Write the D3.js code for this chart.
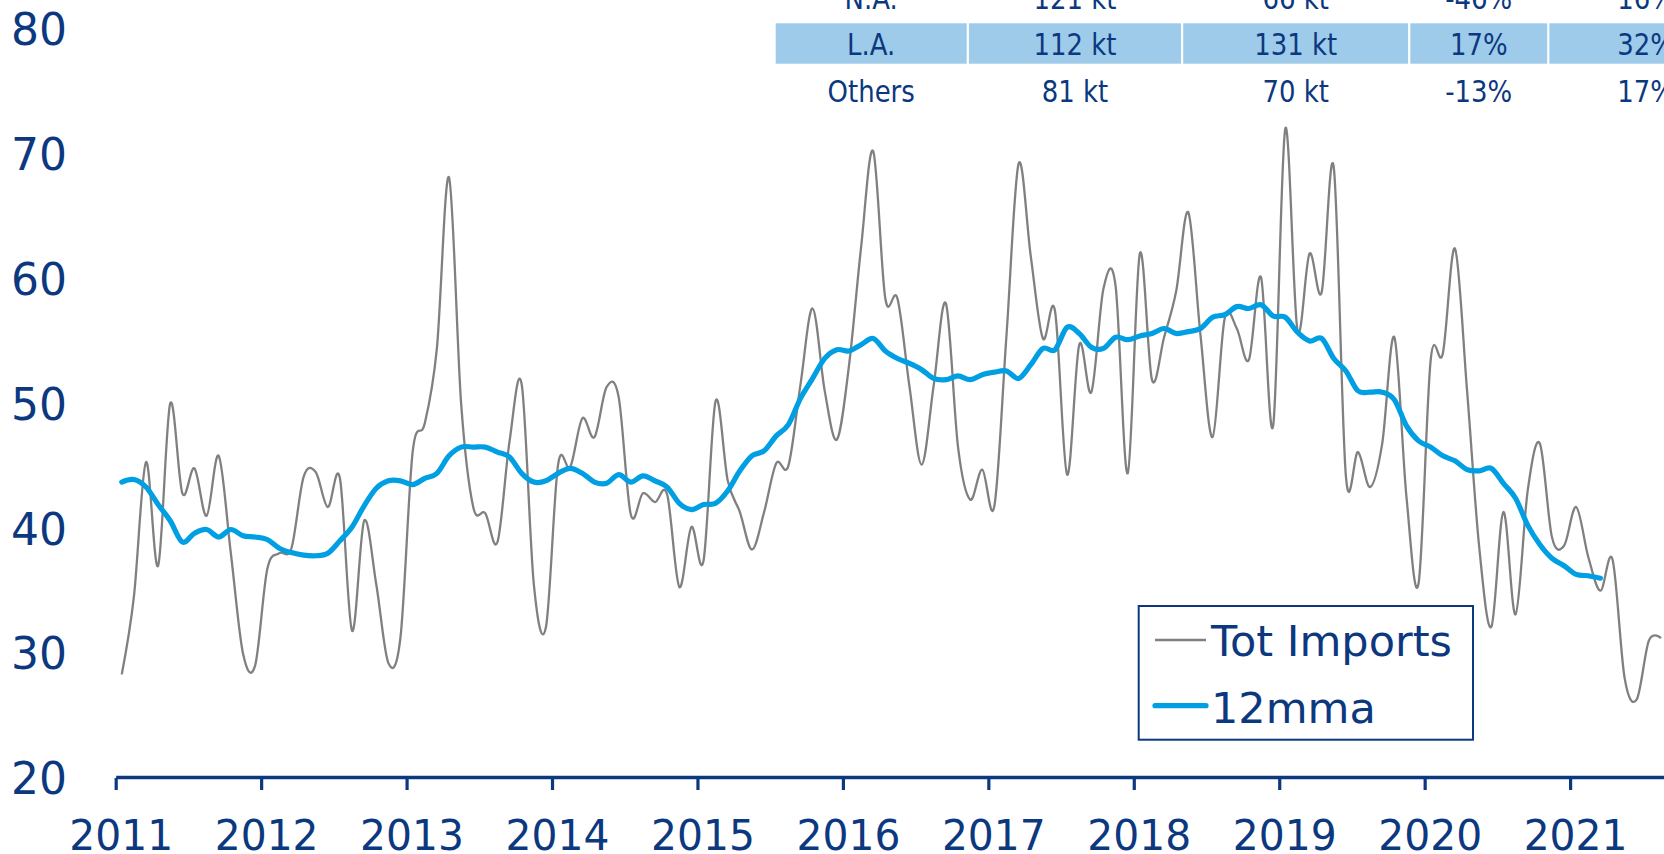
<!DOCTYPE html>
<html>
<head>
<meta charset="utf-8">
<script src="https://cdn.jsdelivr.net/npm/d3@7"></script>
<style>
  html, body { margin: 0; padding: 0; background: #ffffff; overflow: hidden; }
  svg { display: block; }
</style>
</head>
<body>
<svg id="chart" width="1664" height="854"></svg>
<script>
// ---- data -------------------------------------------------------------
const years = [2011, 2012, 2013, 2014, 2015, 2016, 2017, 2018, 2019, 2020, 2021];
const yTicks = [20, 30, 40, 50, 60, 70, 80];

// Monthly total imports (kt), Jan 2011 onwards
const totImports = [
  28.3, 34.5, 45.3, 37.0, 50.0, 42.8, 44.8, 41.0, 45.8, 38.0, 30.0, 29.0,
  36.7, 38.0, 38.4, 44.1, 44.5, 41.7, 44.0, 31.8, 40.6, 35.5, 29.2, 31.3,
  46.1, 48.4, 54.4, 68.1, 50.0, 41.7, 41.2, 38.9, 47.0, 51.5, 35.5, 32.1,
  45.1, 44.9, 48.8, 47.3, 51.3, 50.5, 41.1, 42.8, 42.1, 42.7, 35.3, 40.1,
  37.4, 50.2, 43.8, 41.3, 38.3, 41.3, 45.2, 45.0, 51.5, 57.6, 51.0, 47.1,
  53.0, 62.5, 70.2, 58.4, 58.4, 51.3, 45.1, 51.5, 58.0, 46.5, 42.3, 44.7,
  41.8, 55.5, 69.2, 61.8, 55.2, 57.4, 44.3, 54.7, 50.9, 59.2, 59.4, 44.4,
  62.0, 51.9, 55.3, 59.0, 65.3, 55.5, 47.3, 56.8, 56.0, 53.5, 60.1, 48.2,
  72.0, 55.9, 62.0, 58.9, 68.9, 44.2, 46.1, 43.3, 46.8, 55.3, 42.5, 35.6,
  53.5, 54.0, 62.4, 51.0, 38.5, 32.1, 41.3, 33.1, 43.0, 46.8, 39.3, 38.6,
  41.7, 37.7, 35.0, 37.5, 28.0, 26.3, 31.0, 31.2
];

// 12-month moving average, Jan 2011 onwards
const ma12 = [
  43.7, 43.9, 43.3, 41.9, 40.6, 38.9, 39.6, 39.9, 39.3, 39.9, 39.4, 39.3,
  39.1, 38.4, 38.05, 37.85, 37.8, 38.0, 39.0, 40.1, 41.8, 43.2, 43.8, 43.8,
  43.5, 44.0, 44.4, 45.8, 46.5, 46.5, 46.5, 46.1, 45.7, 44.4, 43.7, 43.8,
  44.4, 44.8, 44.4, 43.7, 43.6, 44.3, 43.7, 44.2, 43.8, 43.3, 42.0, 41.5,
  41.9, 42.0, 43.0, 44.6, 45.8, 46.2, 47.4, 48.3, 50.4, 52.0, 53.6, 54.3,
  54.2, 54.7, 55.2, 54.2, 53.6, 53.2, 52.7, 52.0, 51.9, 52.2, 51.9, 52.3,
  52.5, 52.6, 52.0, 53.1, 54.4, 54.3, 56.1, 55.6, 54.5, 54.4, 55.3, 55.1,
  55.4, 55.6, 56.0, 55.6, 55.75, 56.0, 56.9, 57.1, 57.75, 57.6, 57.9, 57.0,
  56.9, 55.7, 55.0, 55.2, 53.6, 52.6, 51.0, 50.9, 50.9, 50.3, 48.2, 47.0,
  46.5, 45.8, 45.4, 44.7, 44.6, 44.8, 43.6, 42.4, 40.25, 38.7, 37.6, 37.0,
  36.3, 36.2, 36.0
];

// Regional summary table
const regions     = ["N.A.", "L.A.", "Others"];
const volPrev     = ["121 kt", "112 kt", "81 kt"];
const volCurr     = ["66 kt", "131 kt", "70 kt"];
const volChange   = ["-46%", "17%", "-13%"];
const volShare    = ["16%", "32%", "17%"];
const highlighted = "L.A.";

const seriesNames = ["Tot Imports", "12mma"];

// ---- styling --------------------------------------------------------------
const NAVY = "#0c3880";
const GREY = "#808080";
const BLUE = "#009fe3";
const CELL_BG = "#9ecbea";
const FONT = "'DejaVu Sans', Verdana, sans-serif";

const svg = d3.select("#chart");

// ---- scales ---------------------------------------------------------------
const monthPx = 12.12;
const x0 = 115.7;
const x = d3.scaleLinear()
  .domain([0, years.length * 12])
  .range([x0, x0 + years.length * 12 * monthPx]);
const y = d3.scaleLinear().domain([20, 80]).range([778, 28.8]);

// points sit in the middle of each month
const px = (d, i) => x(i + 0.5);

// ---- y labels (no axis line) ---------------------------------------------
const yAxis = d3.axisLeft(y).tickValues(yTicks).tickSize(0).tickFormat(d3.format("d"));
const gy = svg.append("g").attr("transform", "translate(67,0)").call(yAxis);
gy.select(".domain").remove();
gy.selectAll("text")
  .attr("x", 0).attr("dy", "0.36em")
  .attr("text-anchor", "end")
  .style("font-family", FONT).style("font-size", "44px")
  .attr("fill", NAVY);

// ---- series ---------------------------------------------------------------
const line = d3.line().x(px).y(d => y(d)).curve(d3.curveCardinal.tension(0));

svg.append("path")
  .datum(totImports)
  .attr("d", line)
  .attr("fill", "none")
  .attr("stroke", GREY)
  .attr("stroke-width", 2.3);

svg.append("path")
  .datum(ma12)
  .attr("d", line)
  .attr("fill", "none")
  .attr("stroke", BLUE)
  .attr("stroke-width", 5.2)
  .attr("stroke-linecap", "round")
  .attr("stroke-linejoin", "round");

// ---- x axis ---------------------------------------------------------------
const xAxis = d3.axisBottom(x)
  .tickValues(years.map((yr, i) => i * 12))
  .tickFormat((d, i) => years[i])
  .tickSizeInner(13)
  .tickSizeOuter(0);
const gx = svg.append("g").attr("transform", "translate(0,777)").call(xAxis);
gx.select(".domain").attr("stroke", NAVY).attr("stroke-width", 3.6);
gx.selectAll(".tick line").attr("stroke", NAVY).attr("stroke-width", 3.2).attr("y1", 1);
gx.selectAll(".tick text")
  .attr("y", 0).attr("dy", 0)
  .attr("transform", "translate(5,73) scale(0.95,1)")
  .attr("fill", NAVY)
  .style("font-family", FONT).style("font-size", "43px");

// ---- summary table --------------------------------------------------------
const colEdges = [775.7, 968.9, 1183.2, 1410.3, 1549.4, 1745];
const gap = 2.2;
const rowBase = [8.5, 55.2, 101.9];
const columns = [regions, volPrev, volCurr, volChange, volShare];
const table = svg.append("g");

regions.forEach((r, ri) => {
  if (r === highlighted) {
    table.selectAll(null)
      .data(columns)
      .enter().append("rect")
      .attr("x", (c, ci) => colEdges[ci])
      .attr("y", rowBase[ri] - 31.9)
      .attr("width", (c, ci) => colEdges[ci + 1] - colEdges[ci] - gap)
      .attr("height", 40.4)
      .attr("fill", CELL_BG);
  }
  table.selectAll(null)
    .data(columns)
    .enter().append("text")
    .attr("transform", (c, ci) => {
      const cx = (colEdges[ci] + colEdges[ci + 1] - gap) / 2;
      return `translate(${cx},${rowBase[ri]}) scale(0.88,1)`;
    })
    .attr("text-anchor", "middle")
    .attr("fill", NAVY)
    .style("font-family", FONT).style("font-size", "29.5px")
    .text(c => c[ri]);
});

// ---- legend ---------------------------------------------------------------
const lg = svg.append("g");
lg.append("rect")
  .attr("x", 1138.7).attr("y", 606)
  .attr("width", 334.3).attr("height", 133.7)
  .attr("fill", "#ffffff")
  .attr("stroke", NAVY).attr("stroke-width", 2);

const legendItems = [
  { name: seriesNames[0], color: GREY, width: 2.3, ly: 640, ty: 656 },
  { name: seriesNames[1], color: BLUE, width: 5.2, ly: 705.7, ty: 722.7 }
];
legendItems.forEach(it => {
  lg.append("line")
    .attr("x1", 1155).attr("x2", 1206)
    .attr("y1", it.ly).attr("y2", it.ly)
    .attr("stroke", it.color).attr("stroke-width", it.width)
    .attr("stroke-linecap", it.width > 3 ? "round" : "butt");
  lg.append("text")
    .attr("x", 1211).attr("y", it.ty)
    .attr("fill", NAVY)
    .style("font-family", FONT).style("font-size", "43px")
    .text(it.name);
});
</script>
</body>
</html>
